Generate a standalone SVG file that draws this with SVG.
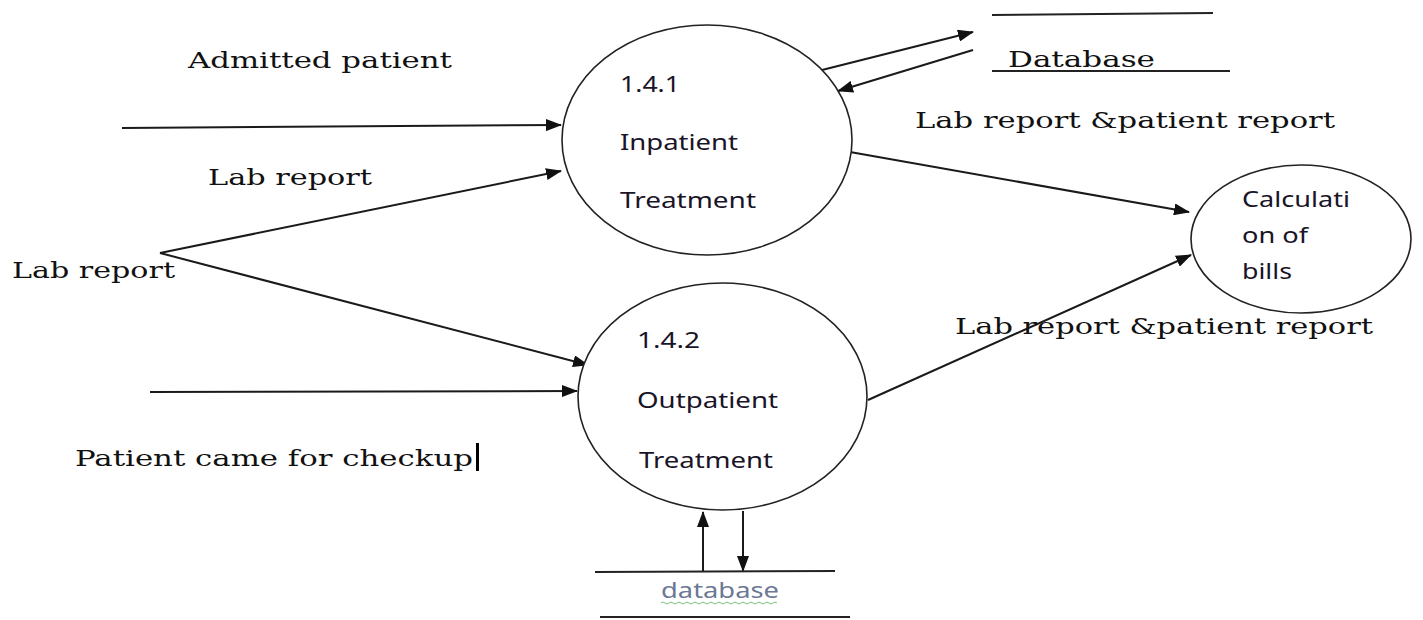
<svg xmlns="http://www.w3.org/2000/svg" width="1423" height="620" viewBox="0 0 1423 620">
<style>
.bg{fill:#fff}
.node{fill:#fff;stroke:#222;stroke-width:1.6}
.flow{fill:none;stroke:#1a1a1a;stroke-width:2;marker-end:url(#ah)}
.store{fill:none;stroke:#222;stroke-width:2}
.lbl{font-family:"DejaVu Serif","Liberation Serif",serif;font-size:22px;fill:#111}
.ntx{font-family:"Noto Sans","Open Sans","Liberation Sans",sans-serif;font-size:21px;fill:#1a1428}
.db2{font-family:"Noto Sans","Open Sans","Liberation Sans",sans-serif;font-size:22px;fill:#6b7894}
</style>
<defs>
<marker id="ah" markerUnits="userSpaceOnUse" markerWidth="16" markerHeight="12" refX="15" refY="6" orient="auto">
<path d="M0,0 L16,6 L0,12 Z" fill="#111"/>
</marker>
</defs>
<rect class="bg" x="0" y="0" width="1423" height="620"/>

<g id="connectors">
<path class="flow" d="M122,128 L561,125"/>
<path class="flow" d="M160,253 L561,171"/>
<path class="flow" d="M160,253 L588,365"/>
<path class="flow" d="M150,392 L577,391"/>
<path class="flow" d="M822,70 L973,32"/>
<path class="flow" d="M973,50 L838,91"/>
<path class="flow" d="M850,152 L1189,212"/>
<path class="flow" d="M868,400 L1191,255"/>
<path class="flow" d="M703,571 L703,512"/>
<path class="flow" d="M743,511 L743,571"/>
</g>

<g id="p141">
<ellipse class="node" cx="707" cy="140" rx="145" ry="115"/>
<text class="ntx" x="620" y="92" textLength="60" lengthAdjust="spacingAndGlyphs">1.4.1</text>
<text class="ntx" x="620" y="150" textLength="118" lengthAdjust="spacingAndGlyphs">Inpatient</text>
<text class="ntx" x="620" y="208" textLength="136" lengthAdjust="spacingAndGlyphs">Treatment</text>
</g>

<g id="p142">
<ellipse class="node" cx="722.5" cy="396.5" rx="144.5" ry="113.5"/>
<text class="ntx" x="637" y="348" textLength="63" lengthAdjust="spacingAndGlyphs">1.4.2</text>
<text class="ntx" x="637" y="408" textLength="141" lengthAdjust="spacingAndGlyphs">Outpatient</text>
<text class="ntx" x="639" y="468" textLength="134" lengthAdjust="spacingAndGlyphs">Treatment</text>
</g>

<g id="calc">
<ellipse class="node" cx="1301" cy="239" rx="110" ry="74"/>
<text class="ntx" x="1242" y="207" textLength="108" lengthAdjust="spacingAndGlyphs">Calculati</text>
<text class="ntx" x="1242" y="243" textLength="66" lengthAdjust="spacingAndGlyphs">on of</text>
<text class="ntx" x="1242" y="279" textLength="50" lengthAdjust="spacingAndGlyphs">bills</text>
</g>

<g id="db-top">
<path class="store" d="M992,15 L1213,13"/>
<path class="store" d="M992,71 L1230,71"/>
<text class="lbl" x="1008" y="67" textLength="147" lengthAdjust="spacingAndGlyphs">Database</text>
</g>

<g id="db-bottom">
<path class="store" d="M595,572 L835,571"/>
<path class="store" d="M600,617 L850,617"/>
<text class="db2" x="661" y="598" textLength="118" lengthAdjust="spacingAndGlyphs">database</text>
<path d="M661,603 q2,-2 4,0 t4,0 t4,0 t4,0 t4,0 t4,0 t4,0 t4,0 t4,0 t4,0 t4,0 t4,0 t4,0 t4,0 t4,0 t4,0 t4,0 t4,0 t4,0 t4,0 t4,0 t4,0 t4,0 t4,0 t4,0 t4,0 t4,0 t4,0 t4,0" fill="none" stroke="#7cc47c" stroke-width="1"/>
</g>

<g id="labels">
<text class="lbl" x="188" y="68" textLength="264" lengthAdjust="spacingAndGlyphs">Admitted patient</text>
<text class="lbl" x="208" y="185" textLength="164" lengthAdjust="spacingAndGlyphs">Lab report</text>
<text class="lbl" x="12" y="278" textLength="163" lengthAdjust="spacingAndGlyphs">Lab report</text>
<text class="lbl" x="75" y="466" textLength="398" lengthAdjust="spacingAndGlyphs">Patient came for checkup</text>
<rect x="476" y="443" width="3" height="28" fill="#000"/>
<text class="lbl" x="915" y="128" textLength="420" lengthAdjust="spacingAndGlyphs">Lab report &amp;patient  report</text>
<text class="lbl" x="955" y="334" textLength="418" lengthAdjust="spacingAndGlyphs">Lab report &amp;patient  report</text>
</g>
</svg>
